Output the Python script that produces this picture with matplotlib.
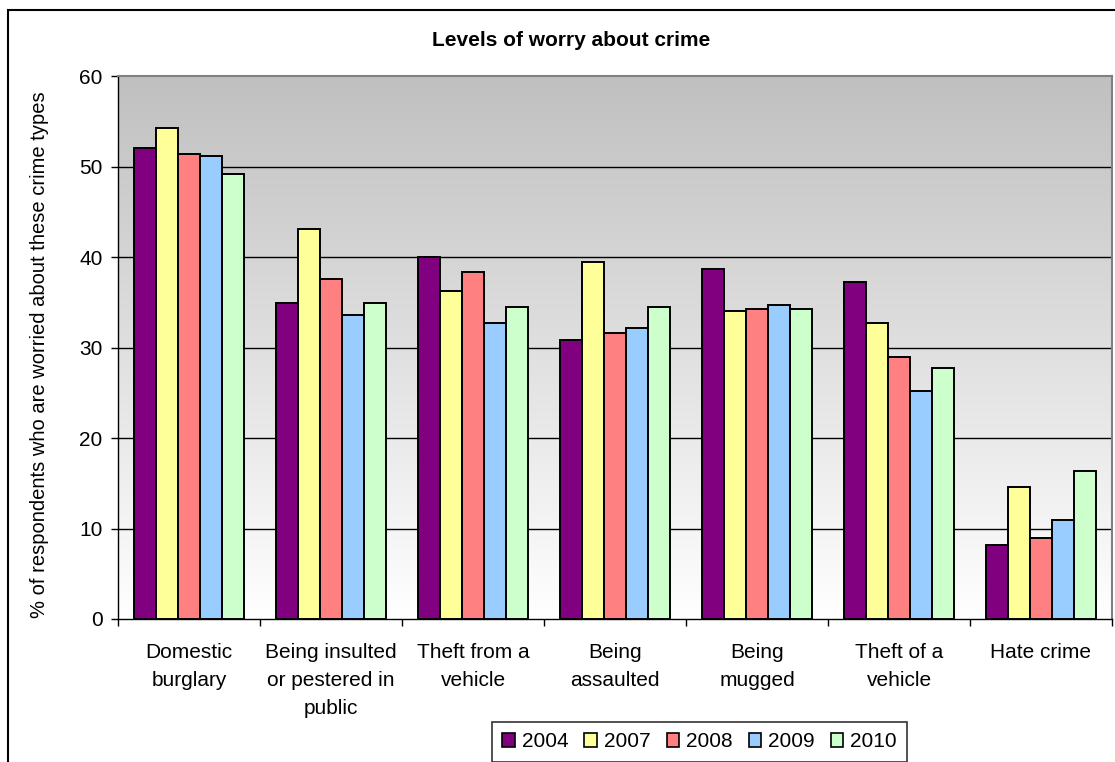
import matplotlib
matplotlib.use("Agg")
import matplotlib.pyplot as plt
import numpy as np
from matplotlib.patches import Rectangle, Patch
from matplotlib.colors import LinearSegmentedColormap

categories = ["Domestic\nburglary", "Being insulted\nor pestered in\npublic", "Theft from a\nvehicle",
              "Being\nassaulted", "Being\nmugged", "Theft of a\nvehicle", "Hate crime"]
years = ["2004", "2007", "2008", "2009", "2010"]
v2004 = [52.0, 34.9, 40.0, 30.8, 38.7, 37.2, 8.2]
v2007 = [54.3, 43.1, 36.2, 39.4, 34.0, 32.7, 14.6]
v2008 = [51.4, 37.6, 38.3, 31.6, 34.3, 29.0, 8.9]
v2009 = [51.2, 33.6, 32.7, 32.1, 34.7, 25.2, 10.9]
v2010 = [49.2, 34.9, 34.5, 34.5, 34.3, 27.7, 16.4]
series = [v2004, v2007, v2008, v2009, v2010]
colors = ["#800080", "#FFFF99", "#FF8080", "#99CCFF", "#CCFFCC"]

plt.rcParams['font.family'] = ['Liberation Sans', 'DejaVu Sans']

W, H = 1115, 762
fig = plt.figure(figsize=(W / 100, H / 100), dpi=100)
ax = fig.add_axes([118 / W, 1 - 619 / H, (1112 - 118) / W, (619 - 76) / H])

# outer chart border
fig.patches.append(Rectangle((8 / W, -0.1), 1.2, 1 - 10 / H + 0.1, transform=fig.transFigure,
                             fill=False, edgecolor="black", linewidth=1.5, zorder=0))

# gradient background
grad = np.linspace(0, 1, 256).reshape(-1, 1)
cmap = LinearSegmentedColormap.from_list("g", ["#C0C0C0", "#FFFFFF"])
ax.imshow(grad, extent=[0, 1, 0, 1], transform=ax.transAxes, cmap=cmap, aspect="auto", zorder=0)

x = np.arange(len(categories))
bw = 0.155
for j, (vals, c) in enumerate(zip(series, colors)):
    ax.bar(x + (j - 2) * bw, vals, width=bw, color=c, edgecolor="black", linewidth=1.4,
           zorder=3, label=years[j])

ax.set_xlim(-0.5, len(categories) - 0.5)
ax.set_ylim(0, 60)
ax.set_yticks(range(0, 61, 10))
for yv in range(10, 60, 10):
    ax.axhline(yv, color="black", linewidth=1.0, zorder=1)

ax.set_xticks(x)
ax.set_xticklabels(categories, fontsize=15, linespacing=1.6, va="top")
ax.set_xticks(np.arange(-0.5, len(categories), 1), minor=True)
ax.tick_params(axis="x", which="major", length=0, pad=17)
ax.tick_params(axis="x", which="minor", length=5, width=1, direction="out")
ax.tick_params(axis="y", length=5, width=1, direction="out", labelsize=15, pad=6)

for s in ["top", "right"]:
    ax.spines[s].set_color("#808080")
    ax.spines[s].set_linewidth(1.5)
ax.spines["left"].set_color("black")
ax.spines["bottom"].set_color("black")
ax.spines["left"].set_linewidth(1.0)
ax.spines["bottom"].set_linewidth(1.0)

fig.text(40 / W, 1 - 355 / H, "% of respondents who are worried about these crime types",
         rotation=90, ha="center", va="center", fontsize=14.5)
fig.text(571 / W, 1 - 40 / H, "Levels of worry about crime", ha="center", va="center",
         fontsize=15, fontweight="bold")

handles = [Patch(facecolor=c, edgecolor="black", linewidth=1.2) for c in colors]
leg = fig.legend(handles, years, loc="upper left", bbox_to_anchor=(492 / W, 1 - 722 / H),
                 ncol=5, fontsize=15, frameon=True, fancybox=False, edgecolor="black",
                 handlelength=0.6, handleheight=0.6, handletextpad=0.35, columnspacing=0.75,
                 borderpad=0.5, borderaxespad=0)
leg.get_frame().set_linewidth(1.2)

fig.savefig("out.png", dpi=100)
